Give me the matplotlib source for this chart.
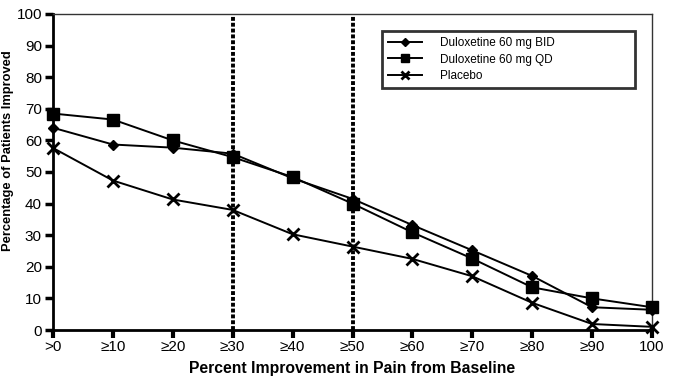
import matplotlib
matplotlib.use("Agg")
import matplotlib.pyplot as plt

plt.rcParams['font.family'] = ['Liberation Sans', 'DejaVu Sans']

categories = [">0", "≥10", "≥20", "≥30", "≥40", "≥50", "≥60", "≥70", "≥80", "≥90", "100"]
bid = [64, 58.7, 57.7, 55.8, 48, 41.5, 33.2, 25.2, 17.1, 7.2, 6.4]
qd = [68.5, 66.6, 60, 54.7, 48.4, 40, 30.9, 22.6, 13.5, 10, 7.2]
placebo = [57.6, 47.3, 41.3, 38, 30.3, 26.4, 22.5, 17, 8.6, 1.9, 1]
names = ["Duloxetine 60 mg BID", "Duloxetine 60 mg QD", "Placebo"]
cutoffs = [3, 5]

fig = plt.figure(figsize=(6.8, 3.85), dpi=100)
ax = fig.add_axes([53/680, 1 - 330/385, 599/680, 316/385])
x = list(range(len(categories)))

ax.plot(x, bid, color='black', lw=1.4, marker='D', ms=5.5, label=names[0], zorder=3, clip_on=False)
ax.plot(x, qd, color='black', lw=1.4, marker='s', ms=8, label=names[1], zorder=3, clip_on=False)
ax.plot(x, placebo, color='black', lw=1.4, marker='x', ms=8, mew=2, label=names[2], zorder=3, clip_on=False)

for c in cutoffs:
    ax.axvline(c, color='black', lw=2.8, ls=(0, (1.0, 0.5)), zorder=2)

ax.set_xlim(0, 10)
ax.set_ylim(0, 100)
ax.set_xticks(x)
ax.set_xticklabels(categories, fontsize=11)
ax.set_yticks(range(0, 101, 10))
ax.tick_params(axis='y', labelsize=11, direction='out', length=6, width=2.5, pad=2)
ax.tick_params(axis='x', direction='out', length=6, width=3, pad=1)

for s in ['left', 'bottom']:
    ax.spines[s].set_linewidth(2)
for s in ['top', 'right']:
    ax.spines[s].set_linewidth(1)
    ax.spines[s].set_color('#333333')

ax.set_ylabel("Percentage of Patients Improved", fontsize=9.3, fontweight='bold', va='center')
ax.yaxis.set_label_coords((8 - 53) / 599, (330 - 151) / 316)
ax.set_xlabel("Percent Improvement in Pain from Baseline", fontsize=11.3, fontweight='bold', labelpad=5)

x0 = (382 - 53) / 599
w = (635 - 382) / 599
ytop = (330 - 31) / 316
h = 60 / 316
leg = ax.legend(loc='upper left', bbox_to_anchor=(x0, ytop - h, w, h), mode='expand', fontsize=8.5,
                frameon=True, fancybox=False, edgecolor='black', borderpad=0.55,
                labelspacing=0.35, handlelength=2.8, handletextpad=1.6, borderaxespad=0,
                markerscale=0.75)
leg.get_frame().set_linewidth(2)

fig.savefig("out.png", dpi=100)
